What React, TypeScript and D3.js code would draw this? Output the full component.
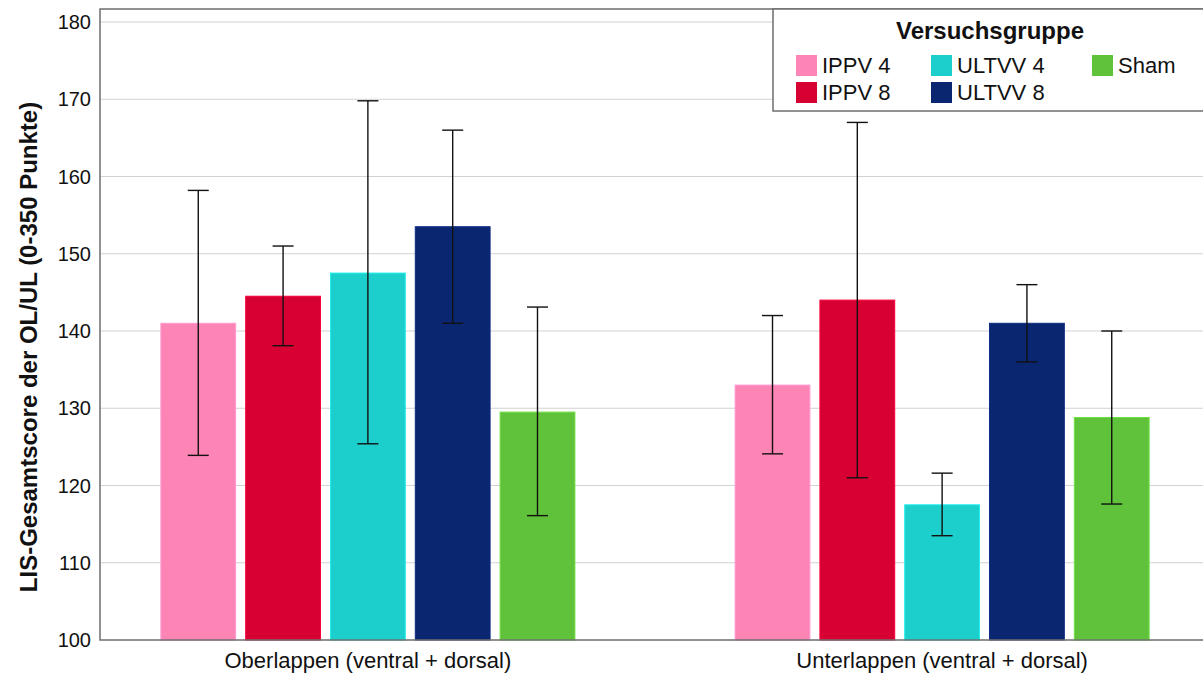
import React, { useEffect, useRef } from 'react'
import * as d3 from 'd3'

const groups = ['Oberlappen (ventral + dorsal)', 'Unterlappen (ventral + dorsal)']
const series = ['IPPV 4', 'IPPV 8', 'ULTVV 4', 'ULTVV 8', 'Sham']
const colors = ['#fd85b5', '#d70032', '#1ccfcd', '#0b2671', '#5fc23a']
// means, lower and upper error bar ends, per group in series order
const meanOL = [141, 144.5, 147.5, 153.5, 129.5]
const lowOL = [123.9, 138.1, 125.4, 141, 116.1]
const highOL = [158.2, 151, 169.8, 166, 143.1]
const meanUL = [133, 144, 117.5, 141, 128.8]
const lowUL = [124.1, 121, 113.5, 136, 117.6]
const highUL = [142, 167, 121.6, 146, 140]
const yTicks = [100, 110, 120, 130, 140, 150, 160, 170, 180]

export default function App() {
  const svgRef = useRef<SVGSVGElement>(null)

  useEffect(() => {
    const W = 1203
    const left = 100, top = 9, bottom = 640
    const svg = d3.select(svgRef.current)
    svg.selectAll('*').remove()

    const y = d3.scaleLinear().domain([100, 180]).range([bottom, 22])
    const x0 = d3.scaleBand().domain(groups).range([left, 1210]).paddingInner(0.279).paddingOuter(0.106)
    const x1 = d3.scaleBand().domain(series).range([0, x0.bandwidth()]).paddingInner(0.118)

    // gridlines
    svg.append('g').selectAll('line').data(yTicks.slice(1)).join('line')
      .attr('x1', left).attr('x2', W)
      .attr('y1', d => y(d)).attr('y2', d => y(d))
      .attr('stroke', '#d2d2d2').attr('stroke-width', 1.2)

    const rows = [
      { g: groups[0], mean: meanOL, low: lowOL, high: highOL },
      { g: groups[1], mean: meanUL, low: lowUL, high: highUL },
    ]
    const data = rows.flatMap(r => series.map((s, i) => ({
      g: r.g, s, i, mean: r.mean[i], low: r.low[i], high: r.high[i],
    })))

    svg.append('g').selectAll('rect').data(data).join('rect')
      .attr('x', d => x0(d.g)! + x1(d.s)!)
      .attr('y', d => y(d.mean))
      .attr('width', x1.bandwidth())
      .attr('height', d => y(100) - y(d.mean))
      .attr('fill', d => colors[d.i])
      .attr('stroke', d => d3.color(colors[d.i])!.brighter(0.4).toString())
      .attr('stroke-width', 1)

    const eb = svg.append('g').attr('stroke', '#111').attr('stroke-width', 1.4)
    const cx = (d: any) => x0(d.g)! + x1(d.s)! + x1.bandwidth() / 2
    eb.selectAll('line.v').data(data).join('line').attr('class', 'v')
      .attr('x1', cx).attr('x2', cx)
      .attr('y1', d => y(d.low)).attr('y2', d => y(d.high))
    eb.selectAll('line.h').data(data).join('line').attr('class', 'h')
      .attr('x1', d => cx(d) - 10.5).attr('x2', d => cx(d) + 10.5)
      .attr('y1', d => y(d.high)).attr('y2', d => y(d.high))
    eb.selectAll('line.l').data(data).join('line').attr('class', 'l')
      .attr('x1', d => cx(d) - 10.5).attr('x2', d => cx(d) + 10.5)
      .attr('y1', d => y(d.low)).attr('y2', d => y(d.low))

    // frame
    svg.append('rect').attr('x', left).attr('y', top).attr('width', 1110).attr('height', bottom - top)
      .attr('fill', 'none').attr('stroke', '#6e6e6e').attr('stroke-width', 1.5)

    // y tick labels
    svg.append('g').selectAll('text').data(yTicks).join('text')
      .attr('x', 91).attr('y', d => y(d)).attr('dy', '0.35em')
      .attr('text-anchor', 'end').attr('font-size', 20).attr('fill', '#111')
      .text(d => d)

    // x labels
    svg.append('g').selectAll('text').data(groups).join('text')
      .attr('x', d => x0(d)! + x0.bandwidth() / 2).attr('y', 668)
      .attr('text-anchor', 'middle').attr('font-size', 22)
      .attr('fill', '#111')
      .text(d => d)

    svg.append('text')
      .attr('transform', `translate(37,347) rotate(-90)`)
      .attr('text-anchor', 'middle').attr('font-size', 24).attr('font-weight', 'bold').attr('fill', '#111')
      .text('LIS-Gesamtscore der OL/UL (0-350 Punkte)')

    // legend
    const lg = svg.append('g')
    lg.append('rect').attr('x', 773).attr('y', top).attr('width', 440).attr('height', 102)
      .attr('fill', 'white').attr('stroke', '#6e6e6e').attr('stroke-width', 1.5)
    lg.append('text').attr('x', 990).attr('y', 39).attr('text-anchor', 'middle')
      .attr('font-size', 24).attr('font-weight', 'bold').attr('fill', '#111').text('Versuchsgruppe')
    const colX = [796, 931, 1092]
    const items = series.map((s, i) => ({
      s, i,
      col: i === 4 ? 2 : Math.floor(i / 2),
      row: i === 4 ? 0 : i % 2,
    }))
    const it = lg.selectAll('g.item').data(items).join('g').attr('class', 'item')
      .attr('transform', d => `translate(${colX[d.col]},${55 + d.row * 27})`)
    it.append('rect').attr('width', 21).attr('height', 21).attr('fill', d => colors[d.i])
    it.append('text').attr('x', 26).attr('y', 10.5).attr('dy', '0.36em')
      .attr('font-size', 22).attr('fill', '#111').text(d => d.s)
  }, [])

  return (
    <svg ref={svgRef} width={1203} height={673}
      style={{ position: 'absolute', left: 0, top: 0, fontFamily: '"Liberation Sans", Arial, sans-serif', background: 'white' }} />
  )
}
